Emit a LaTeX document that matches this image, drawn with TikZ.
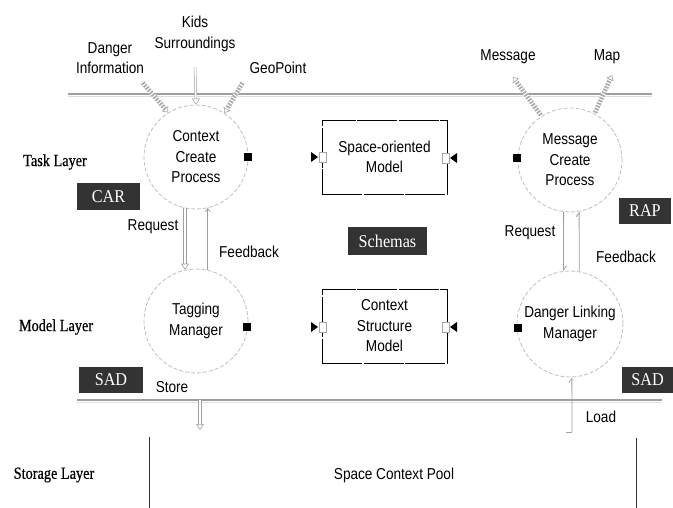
\documentclass[tikz,border=0pt]{standalone}
\usepackage{fontspec}
\setmainfont{Liberation Sans}[FakeStretch=0.86]
\newfontfamily\layfont{Liberation Serif}[FakeStretch=0.84,FakeBold=0.6]
\newfontfamily\tagfont{Liberation Serif}[FakeStretch=0.9]
\usetikzlibrary{arrows.meta}
\definecolor{darkbox}{HTML}{333333}
\tikzset{
  txt/.style={font=\fontsize{15.8}{20.5}\selectfont, align=center, inner sep=0pt},
  proc/.style={circle, draw=gray!50, dash pattern=on 4pt off 2pt, line width=0.8pt, minimum size=104pt, inner sep=0pt, txt},
  model/.style={rectangle, draw=black, line width=0.7pt, dash pattern=on 40pt off 1.5pt, minimum width=125pt, minimum height=74pt, inner sep=0pt, txt},
  tag/.style={rectangle, fill=darkbox, text=white, font=\tagfont\fontsize{18}{20}\selectfont, inner sep=0pt, minimum height=27pt},
  layer/.style={font=\layfont\fontsize{17}{18}\selectfont, inner sep=0pt},
  port/.style={rectangle, fill=black, minimum size=8pt, inner sep=0pt},
  hport/.style={rectangle, draw=gray!70, fill=white, line width=0.6pt, minimum width=7pt, minimum height=10pt, inner sep=0pt},
  tri/.style={fill=black},
  hatch/.style={draw=gray!65, line width=4.5pt, -{Triangle[open,length=5pt,width=8pt,line width=0.7pt]},
     postaction={draw=white, line width=4.6pt, dash pattern=on 1pt off 2pt, arrows=-, shorten >=5pt}},
  hollowarrow/.style={draw=gray!75, double=white, double distance=2.2pt, line width=0.6pt, -{Triangle[open,length=6pt,width=8pt]}},
  thinarrow/.style={draw=gray!75, line width=0.8pt, -{Straight Barb[length=3pt,width=5pt]}},
  harp/.style={draw=gray!75, line width=0.8pt}
}
\begin{document}
\begin{tikzpicture}[x=1pt,y=-1pt]
\useasboundingbox (0,0) rectangle (673,508);
% layer lines
\draw[gray!75, line width=1.1pt] (68,94) -- (652,94);
\draw[gray!25, line width=1pt] (68,96.5) -- (652,96.5);
\draw[gray!75, line width=1.1pt] (77,400) -- (662,400);
\draw[gray!25, line width=1pt] (77,402.5) -- (662,402.5);
% storage pool walls
\draw[black!80, line width=0.8pt] (149,437) -- (149,508);
\draw[black!80, line width=0.8pt] (636,438) -- (636,508);
\node[txt] (pool) at (394,475) {Space Context Pool};

% layer labels
\node[layer] (tl) at (55,162) {Task Layer};
\node[layer] (ml) at (56,327) {Model Layer};
\node[layer] (sl) at (54,475) {Storage Layer};

% processes
\node[proc] (cc) at (196,157) {Context\\Create\\Process};
\node[proc] (tm) at (196,321) {Tagging\\Manager};
\node[proc] (mc) at (570,160) {Message\\Create\\Process};
\node[proc, minimum size=106pt] (dl) at (570,324) {Danger Linking\\Manager};

% models
\node[model] (som) at (384.5,157) {Space-oriented\\Model};
\node[model] (csm) at (384.5,326) {Context\\Structure\\Model};

% tags
\node[tag, minimum width=79pt, minimum height=28pt] (sch) at (387.5,241) {Schemas};
\node[tag, minimum width=63pt] (car) at (108.5,196.5) {CAR};
\node[tag, minimum width=52pt, minimum height=26pt] (rap) at (645,211) {RAP};
\node[tag, minimum width=64pt, minimum height=26pt] (sadl) at (111,380) {SAD};
\node[tag, minimum width=51pt, minimum height=26pt] (sadr) at (647.5,380) {SAD};

% ports on processes
\node[port] (p1) at (248,157) {};
\node[port] (p2) at (247,327) {};
\node[port] (p3) at (517,158) {};
\node[port] (p4) at (518,328) {};
% ports on models
\node[hport] (q1) at (323,157) {};
\node[hport] (q2) at (446,158) {};
\node[hport] (q3) at (323,327) {};
\node[hport] (q4) at (446,327) {};
\fill[tri] (311,152) -- (318,157) -- (311,162) -- cycle;
\fill[tri] (457,153) -- (450,158) -- (457,163) -- cycle;
\fill[tri] (311,322) -- (318,327) -- (311,332) -- cycle;
\fill[tri] (457,322) -- (450,327) -- (457,332) -- cycle;

% inputs
\coordinate (dIn) at (142,82);
\coordinate (kIn) at (195,67);
\coordinate (gIn) at (243,82);
\coordinate (mOut) at (513,77);
\coordinate (mapOut) at (612,75);
\draw[hatch] (dIn) -- (cc.122);
\draw[hatch] (gIn) -- (cc.57);
\draw[hollowarrow, line width=0.5pt, double distance=1.5pt] (kIn) -- (cc.90);
\draw[hatch] (mc.123) -- (mOut);
\draw[hatch] (mc.62) -- (mapOut);

\node[txt] (lk) at (195,34) {Kids\\Surroundings};
\node[txt] (ld) at (110,58) {Danger\\Information};
\node[txt] (lg) at (278,68) {GeoPoint};
\node[txt] (lm) at (508,57) {Message};
\node[txt] (lmap) at (607,57) {Map};

% request / feedback left
\draw[hollowarrow] (cc.-102) -- (tm.102);
\draw[thinarrow] (tm.77) -- (cc.-77);
\node[txt] (lr1) at (153,227) {Request};
\node[txt] (lf1) at (249,252) {Feedback};

% request / feedback right
\draw[harp, -{Straight Barb[left,length=4pt,width=6pt]}] (mc.-97) -- (dl.97);
\draw[harp, -{Straight Barb[left,length=4pt,width=6pt]}] (dl.80) -- (mc.-80);
\node[txt] (lr2) at (530,233) {Request};
\node[txt] (lf2) at (626,257) {Feedback};

% store / load
\coordinate (storeA) at (200,400);
\coordinate (storeB) at (200,430);
\draw[hollowarrow] (storeA) -- (storeB);
\node[txt] (lst) at (172,387) {Store};
\coordinate (loadA) at (572,432);
\draw[harp, -{Straight Barb[left,length=4pt,width=6pt]}] (loadA) -- (dl.-88);
\draw[harp] (loadA) -- ++(-6,0);
\node[txt] (lld) at (601,417) {Load};
\end{tikzpicture}
\end{document}
